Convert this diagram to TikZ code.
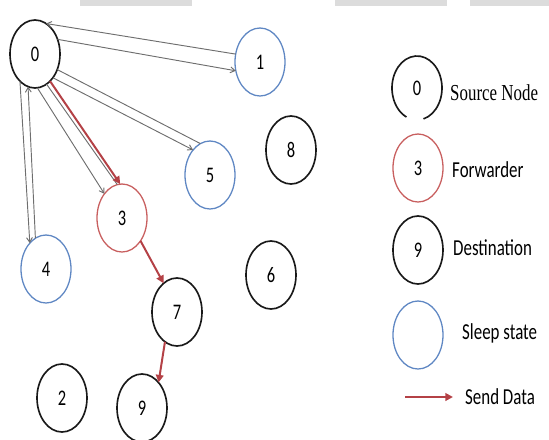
\documentclass[tikz,border=0pt]{standalone}
\usepackage{fontspec}
\setmainfont{Carlito}
\newfontfamily\legserif{Liberation Serif}
\usetikzlibrary{shapes.geometric}
\usetikzlibrary{arrows.meta}

\definecolor{nodeblack}{RGB}{25,25,25}
\definecolor{sleepblue}{RGB}{95,135,195}
\definecolor{fwdred}{RGB}{200,95,95}
\definecolor{datared}{RGB}{180,65,70}
\definecolor{msggray}{RGB}{110,110,110}
\definecolor{bargray}{RGB}{220,220,220}
\newcommand{\narrow}[1]{\scalebox{0.74}[1]{#1}}

\tikzset{
  sensor/.style={ellipse, draw=nodeblack, line width=1.4pt, minimum width=1.5cm,
    minimum height=2.04cm, inner sep=0pt, outer sep=0pt, font=\fontsize{19}{19}\selectfont},
  sleep/.style={sensor, draw=sleepblue, line width=1.1pt},
  fwd/.style={sensor, draw=fwdred, line width=1.1pt},
  msg/.style={draw=msggray, line width=0.8pt, -{Straight Barb[length=4pt,width=5pt]}},
  data/.style={draw=datared, line width=1.7pt, -{Triangle[length=6.5pt,width=6.5pt]}},
  legtext/.style={anchor=west, inner sep=0pt, font=\fontsize{19.5}{20}\selectfont},
}

\begin{document}
\begin{tikzpicture}[x=0.03cm, y=-0.03cm]
            \useasboundingbox (0,0) rectangle (549,439);
            % Grey bars along the top edge
            \fill[bargray] (80,0) rectangle (192,6);
            \fill[bargray] (335,0) rectangle (447,6);
            \fill[bargray] (470,0) rectangle (549,6);

            % Sensor nodes
            \node[sensor] (n0) at (35,54) {\narrow{0}};
            \node[sleep] (n1) at (260,62) {\narrow{1}};
            \node[sleep] (n5) at (210,175) {\narrow{5}};
            \node[sensor] (n8) at (291,150) {\narrow{8}};
            \node[fwd] (n3) at (122,218) {\narrow{3}};
            \node[sleep] (n4) at (46,269) {\narrow{4}};
            \node[sensor] (n6) at (271,275) {\narrow{6}};
            \node[sensor] (n7) at (177,312) {\narrow{7}};
            \node[sensor] (n2) at (62,398) {\narrow{2}};
            \node[sensor] (n9) at (142,408) {\narrow{9}};

            % Control messages
            \draw[msg] (n1.162) -- (n0.70);
            \draw[msg] (n0.33) -- (n1.200);
            \draw[msg, -] (n0.-35) -- (n5.107);
            \draw[msg] (n0.-53) -- (n5.124);
            \draw[msg] (n0.-86) -- (n3.126);
            \draw[msg, -] (n0.-69) -- (n3.98);
            \draw[msg] (n0.-119) -- (n4.122);
            \draw[msg] (n4.109) -- (n0.-102);

            % Data path
            \draw[data] (n0.-61) -- (n3.93);
            \draw[data] (n3.-51) -- (n7.115);
            \draw[data] (n7.-112) -- (n9.57);

            % Legend
            \node[sensor, draw=none] (l0) at (417,88) {\narrow{0}};
            \draw[nodeblack, line width=1.4pt] ([shift={(-75:0.75cm and 0.96cm)}]l0.center)
                arc[start angle=-75, end angle=245, x radius=0.75cm, y radius=0.96cm];
            \node[legtext, font=\legserif\fontsize{19.5}{20}\selectfont] (t0) at (450,93) {\narrow{Source Node}};
            \node[fwd] (l3) at (418,168) {\narrow{3}};
            \node[legtext] (t3) at (452,170) {\narrow{Forwarder}};
            \node[sensor] (l9) at (418,250) {\narrow{9}};
            \node[legtext] (t9) at (453,248) {\narrow{Destination}};
            \node[sleep] (ls) at (418,335) {};
            \node[legtext] (ts) at (462,333) {\narrow{Sleep state}};
            \coordinate (la) at (405,397);
            \node[legtext] (ta) at (465,397) {\narrow{Send Data}};
            \draw[data, line width=2pt] (la) -- ([xshift=-0.36cm]ta.west);

        \end{tikzpicture}
\end{document}
